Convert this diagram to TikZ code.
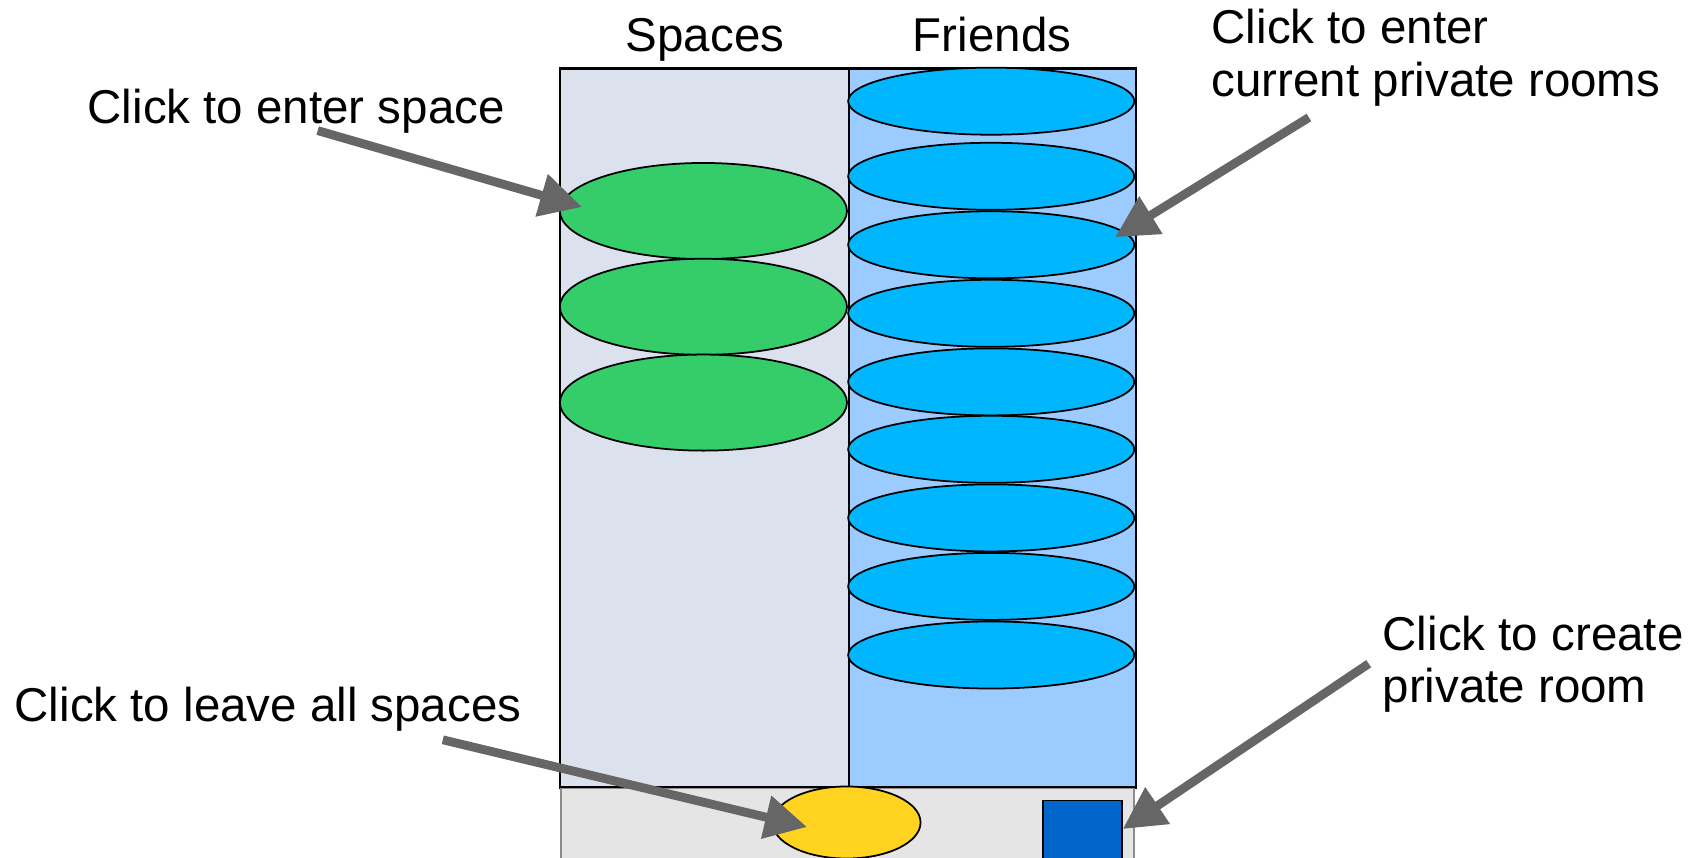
\documentclass[tikz,border=0pt]{standalone}
\usepackage{fontspec}
\setmainfont{Liberation Sans}
\usetikzlibrary{arrows.meta,shapes.geometric}
\definecolor{spacebg}{HTML}{DCE1EE}
\definecolor{friendbg}{HTML}{9BCBFF}
\definecolor{spacegreen}{HTML}{35CC6A}
\definecolor{friendblue}{HTML}{00B7FF}
\definecolor{leaveyellow}{HTML}{FFD320}
\definecolor{createblue}{HTML}{0066CC}
\definecolor{barbg}{HTML}{E5E5E5}
\definecolor{arrowgray}{HTML}{666666}
\tikzset{
  lbl/.style={font=\fontsize{13.5}{15.5}\selectfont, inner sep=0pt, anchor=base west},
  title/.style={font=\fontsize{13.5}{15.5}\selectfont, inner sep=0pt, anchor=base},
  panel/.style={draw=black, line width=0.6pt, inner sep=0pt, minimum height=7.19cm},
  spaceitem/.style={ellipse, draw=black, line width=0.5pt, fill=spacegreen, inner sep=0pt, minimum width=2.87cm, minimum height=0.96cm},
  frienditem/.style={ellipse, draw=black, line width=0.5pt, fill=friendblue, inner sep=0pt, minimum width=2.86cm, minimum height=0.67cm},
  pointer/.style={draw=arrowgray, line width=2.5pt, -{Triangle[length=0.42cm,width=0.42cm]}},
}
\begin{document}
\begin{tikzpicture}[x=0.01cm,y=-0.01cm]
\useasboundingbox (0,0) rectangle (1706,858);
\clip (0,0) rectangle (1706,858);
% panels
\node[panel, fill=spacebg, anchor=north west, minimum width=2.886cm] (sp) at (559,67.5) {};
\node[panel, fill=friendbg, anchor=north west, minimum width=2.872cm] (fr) at (847.6,67.5) {};
\node[draw=black!45, line width=0.6pt, fill=barbg, anchor=north west, inner sep=0pt, minimum width=5.73cm, minimum height=1.2cm] (bar) at (560,786.6) {};
\draw[black, line width=0.6pt] (bar.north west) -- (bar.north east);
% titles
\node[title] (tsp) at (705,52) {Spaces};
\node[title] (tfr) at (992,52) {Friends};
% spaces
\node[spaceitem] (g1) at (703.4,211) {};
\node[spaceitem] (g2) at (703.4,306.8) {};
\node[spaceitem] (g3) at (703.4,402.6) {};
% friends
\foreach \i/\y in {1/101.2,2/176.3,3/244.8,4/313.3,5/381.9,6/449.3,7/517.9,8/586.4,9/655}
  \node[frienditem] (b\i) at (991.2,\y) {};
% bottom bar items
\node[ellipse, draw=black, line width=0.5pt, fill=leaveyellow, inner sep=0pt, minimum width=1.48cm, minimum height=0.72cm] (leave) at (846.5,822.5) {};
\node[draw=black, line width=0.5pt, fill=createblue, anchor=north west, inner sep=0pt, minimum width=0.79cm, minimum height=0.9cm] (create) at (1042.3,799.7) {};
% labels
\node[lbl] (l1) at (87,124) {Click to enter space};
\node[lbl] (l2a) at (1211,43.5) {Click to enter};
\node[lbl] (l2b) at (1211,96.8) {current private rooms};
\node[lbl] (l3) at (14,721) {Click to leave all spaces};
\node[lbl] (l4a) at (1382,650.6) {Click to create};
\node[lbl] (l4b) at (1382,702.8) {private room};
% arrow ends
\coordinate (s1) at (317.7,130.6);
\coordinate (e1) at (582,207);
\coordinate (s2) at (1308.9,117.5);
\coordinate (e2) at (1115.2,237.2);
\coordinate (s3) at (442.8,739.8);
\coordinate (e3) at (807,827);
\coordinate (s4) at (1368.7,663.7);
\coordinate (e4) at (1122.8,829);
\draw[pointer] (s1) -- (e1);
\draw[pointer] (s2) -- (e2);
\draw[pointer] (s3) -- (e3);
\draw[pointer] (s4) -- (e4);
\end{tikzpicture}
\end{document}
